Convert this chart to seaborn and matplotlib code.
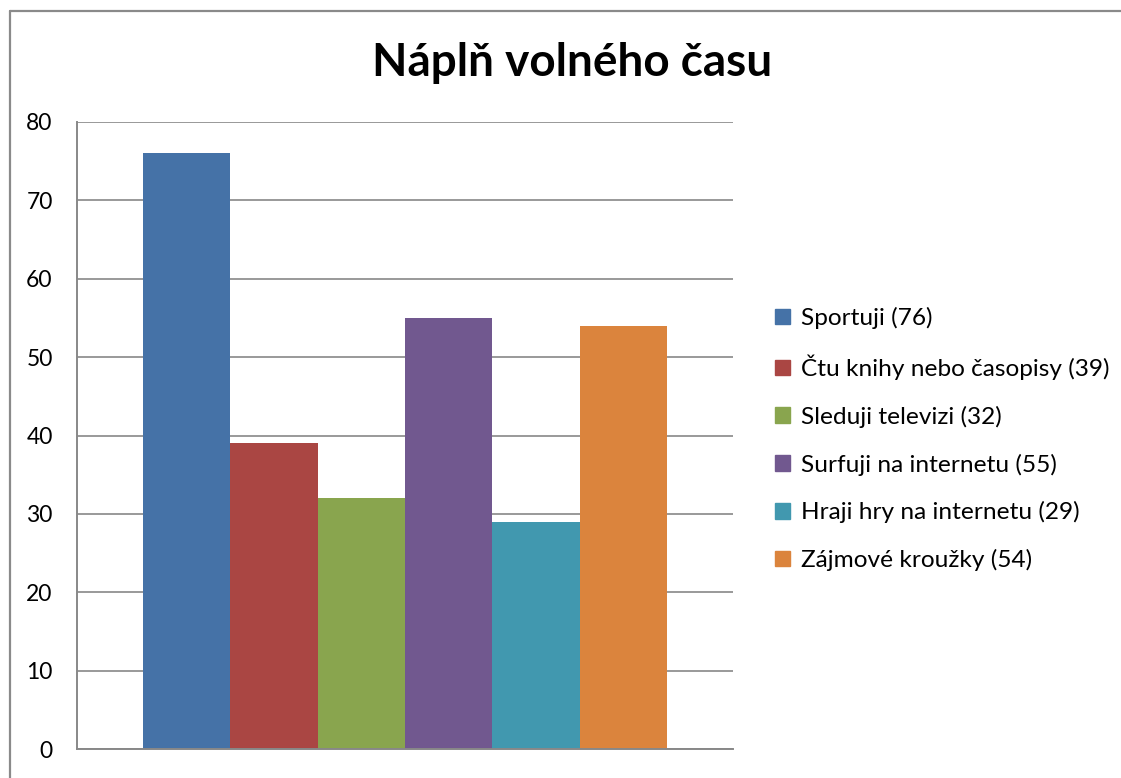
import matplotlib
matplotlib.use("Agg")
import matplotlib.pyplot as plt
import matplotlib.lines as mlines
import matplotlib.patches as mpatches
import seaborn as sns
import pandas as pd

categories = ["Sportuji (76)", "Čtu knihy nebo časopisy (39)", "Sleduji televizi (32)",
              "Surfuji na internetu (55)", "Hraji hry na internetu (29)", "Zájmové kroužky (54)"]
values = [76, 39, 32, 55, 29, 54]
colors = ["#4572A7", "#AA4643", "#89A54E", "#71588F", "#4198AF", "#DB843D"]
yticks = [0, 10, 20, 30, 40, 50, 60, 70, 80]
title = "Náplň volného času"

sns.set_theme(style="white")
plt.rcParams['font.family'] = ['Lato', 'DejaVu Sans']

df = pd.DataFrame({"cat": categories, "val": values})

fig = plt.figure(figsize=(11.21, 7.78), dpi=100)
ax = fig.add_axes([77/1121, 1-749/778, (733-77)/1121, (749-122)/778])

sns.barplot(data=df, x="cat", y="val", hue="cat", palette=colors, width=1.0,
            dodge=False, legend=False, ax=ax, saturation=1, linewidth=0, edgecolor="none")

ax.set_xlim(-1.255, 6.255)
ax.set_ylim(0, 80)
ax.set_yticks(yticks)
ax.set_yticklabels([str(t) for t in yticks], fontsize=16.5)
ax.set_xticks([])
ax.set_xlabel("")
ax.set_ylabel("")
ax.yaxis.grid(True, color="#888888", linewidth=1.2)
ax.set_axisbelow(True)
for s in ["top", "right"]:
    ax.spines[s].set_visible(False)
for s in ["left", "bottom"]:
    ax.spines[s].set_color("#888888")
    ax.spines[s].set_linewidth(1.4)
ax.tick_params(axis="y", length=0, pad=17.5, colors="black")

fig.text(0.5100, 1-63/778, title, ha="center", va="center", fontsize=33, fontweight="bold",
         color="black")

handles = [mpatches.Patch(color=c, label=l) for c, l in zip(colors, categories)]
fig.legend(handles=handles, loc="center left", bbox_to_anchor=(775/1121, 1-439/778),
           frameon=False, fontsize=17.6, handlelength=0.6, handleheight=0.6,
           handletextpad=0.45, labelspacing=1.05, borderaxespad=0, borderpad=0,
           labelcolor="black")

# chart frame border (partial)
fig.add_artist(mlines.Line2D([10/1121, 10/1121], [0, 1-11/778], color="#8a8a8a", lw=1.6,
                             transform=fig.transFigure))
fig.add_artist(mlines.Line2D([10/1121, 1], [1-11/778, 1-11/778], color="#8a8a8a", lw=1.6,
                             transform=fig.transFigure))

fig.savefig("out.png", dpi=100, facecolor="white")
